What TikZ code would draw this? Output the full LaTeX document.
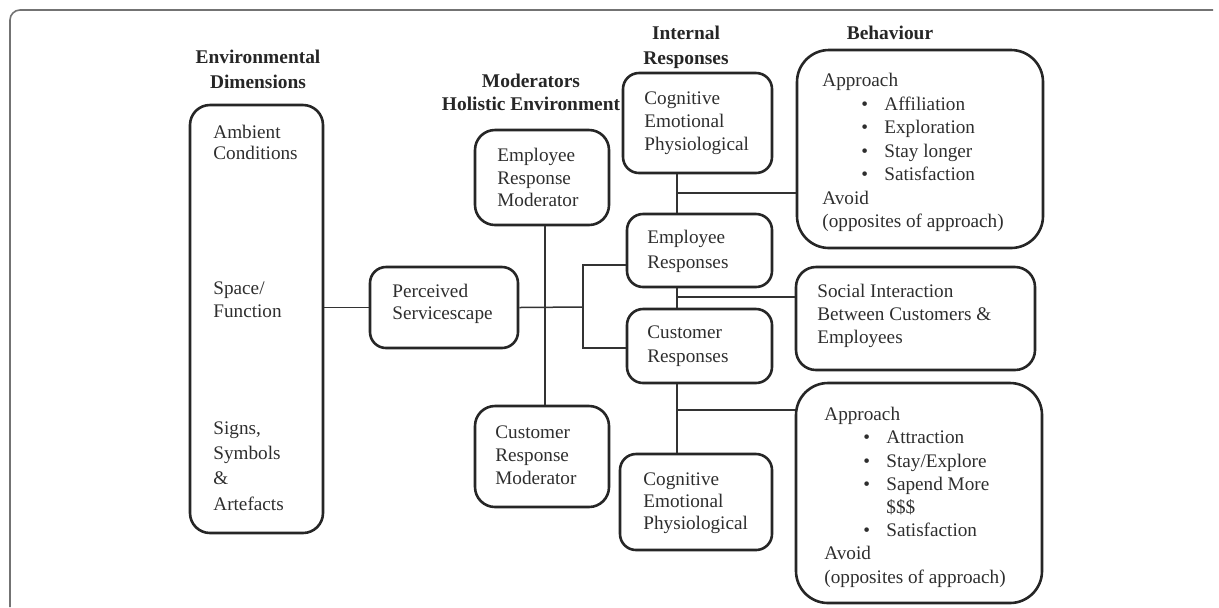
\documentclass[tikz,border=0pt]{standalone}
\usepackage{fontspec}
\setmainfont{Liberation Serif}
\usetikzlibrary{fit}
\newcommand{\bul}[1]{\hspace*{19.5pt}\makebox[11.5pt][l]{\textbullet}#1}
\begin{document}
\begin{tikzpicture}[x=0.5pt,y=-0.5pt,
  box/.style={draw=black!85, line width=1.3pt, rounded corners=8pt, inner sep=0pt},
  conn/.style={draw=black!80, line width=0.75pt},
  txt/.style={anchor=north west, inner sep=0pt, align=left, text=black!82, font=\fontsize{9.6}{#1}\selectfont},
  txt/.default=11.5pt,
  ttl/.style={anchor=north, inner sep=0pt, align=center, text=black!85, font=\fontsize{9.7}{#1}\selectfont\bfseries},
  ttl/.default=12.5pt,
  frame/.style={draw=black!55, line width=0.8pt, rounded corners=5pt}]
\useasboundingbox (0,0) rectangle (1219,607);
\draw[frame] (10,607) -- (10,10) -- (1213,10);

% titles
\node[ttl=12.5pt] (h-env) at (258,50) {Environmental\\Dimensions};
\node[ttl=11.5pt] (h-mod) at (531,74) {Moderators\\Holistic Environment};
\node[ttl=12.5pt] (h-int) at (686,26) {Internal\\Responses};
\node[ttl=12.5pt] (h-beh) at (890,26) {Behaviour};

% boxes
\node[box, rounded corners=10pt, fit={(190,105) (323,533)}] (env) {};
\node[box, fit={(370,267) (518,348)}] (perc) {};
\node[box, rounded corners=10pt, fit={(475,130) (609,225)}] (erm) {};
\node[box, rounded corners=10pt, fit={(475,406) (609,507)}] (crm) {};
\node[box, fit={(623,73) (772,173)}] (cog1) {};
\node[box, fit={(627,214) (772,287)}] (er) {};
\node[box, fit={(627,309) (772,383)}] (cr) {};
\node[box, fit={(620,454) (772,550)}] (cog2) {};
\node[box, rounded corners=16pt, fit={(797,50) (1043,248)}] (beh1) {};
\node[box, rounded corners=10pt, fit={(796,267) (1035,370)}] (soc) {};
\node[box, rounded corners=16pt, fit={(796,383) (1042,603)}] (beh2) {};

% texts
\node[txt=10.5pt] (t-amb) at (213,125) {Ambient\\Conditions};
\node[txt=11.5pt] (t-spa) at (213,281) {Space/\\Function};
\node[txt=12.7pt] (t-sig) at (213,421) {Signs,\\Symbols\\\&\\Artefacts};
\node[txt=11pt] (t-perc) at (392,284) {Perceived\\Servicescape};
\node[txt=11.2pt] (t-erm) at (497,148) {Employee\\Response\\Moderator};
\node[txt=11.7pt] (t-crm) at (495,425) {Customer\\Response\\Moderator};
\node[txt=11.5pt] (t-cog1) at (644,91) {Cognitive\\Emotional\\Physiological};
\node[txt=12.5pt] (t-er) at (647,230) {Employee\\Responses};
\node[txt=12pt] (t-cr) at (647,325) {Customer\\Responses};
\node[txt=11.5pt] (t-soc) at (817,284) {Social Interaction\\Between Customers \&\\Employees};
\node[txt=11.2pt] (t-cog2) at (643,472) {Cognitive\\Emotional\\Physiological};
\node[txt=11.75pt] (t-beh1) at (822,73) {Approach\\\bul{Affiliation}\\\bul{Exploration}\\\bul{Stay longer}\\\bul{Satisfaction}\\Avoid\\(opposites of approach)};
\node[txt=11.6pt] (t-beh2) at (824,407) {Approach\\\bul{Attraction}\\\bul{Stay/Explore}\\\bul{Sapend More}\\\hspace*{31pt}\$\$\$\\\bul{Satisfaction}\\Avoid\\(opposites of approach)};

% connectors
\coordinate (jm) at (583,307);
\coordinate (ja) at (583,265);
\coordinate (jb) at (583,348);
\coordinate (mx) at (545,307);
\coordinate (s1) at (677,193);
\coordinate (s2) at (677,297);
\coordinate (s3) at (677,410);
\draw[conn] (env.east |- perc.west) -- (perc.west);
\draw[conn] (perc.east) -- (jm);
\draw[conn] (er.west |- ja) -- (ja) -- (jb) -- (cr.west |- jb);
\draw[conn] (erm.south -| mx) -- (crm.north -| mx);
\draw[conn] (cog1.south -| s1) -- (er.north -| s1);
\draw[conn] (s1) -- (s1 -| beh1.west);
\draw[conn] (er.south -| s2) -- (cr.north -| s2);
\draw[conn] (s2) -- (s2 -| soc.west);
\draw[conn] (cr.south -| s3) -- (cog2.north -| s3);
\draw[conn] (s3) -- (s3 -| beh2.west);
\end{tikzpicture}
\end{document}
